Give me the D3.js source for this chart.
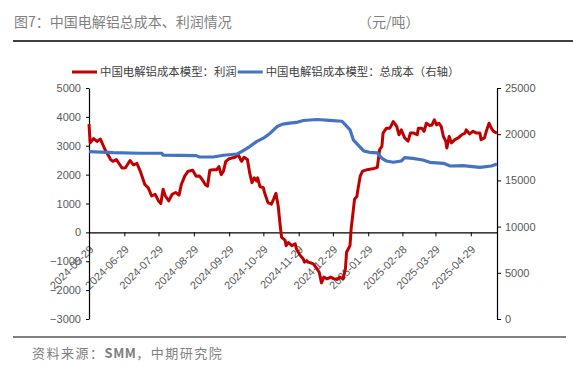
<!DOCTYPE html>
<html>
<head>
<meta charset="utf-8">
<script src="https://cdn.jsdelivr.net/npm/d3@7"></script>
<style>
    html, body { margin: 0; padding: 0; background: #fff; }
    svg { display: block; font-family: "Liberation Sans", Arial, sans-serif; }
</style>
</head>
<body>
<div id="chart"></div>
<script>
// profit (left axis), yuan/ton
const profitDates = [
    '2024-05-29', '2024-05-30', '2024-06-02', '2024-06-05', '2024-06-08', '2024-06-12', '2024-06-17', '2024-06-19',
    '2024-06-22', '2024-06-27', '2024-06-30', '2024-07-04', '2024-07-07', '2024-07-10', '2024-07-13', '2024-07-17',
    '2024-07-20', '2024-07-23', '2024-07-26', '2024-07-29', '2024-07-31', '2024-08-02', '2024-08-04', '2024-08-07',
    '2024-08-10', '2024-08-13', '2024-08-16', '2024-08-18', '2024-08-21', '2024-08-24', '2024-08-28', '2024-08-31',
    '2024-09-03', '2024-09-05', '2024-09-08', '2024-09-10', '2024-09-12', '2024-09-15', '2024-09-18', '2024-09-20',
    '2024-09-22', '2024-09-24', '2024-09-26', '2024-09-29', '2024-10-04', '2024-10-07', '2024-10-09', '2024-10-10',
    '2024-10-12', '2024-10-15', '2024-10-17', '2024-10-19', '2024-10-21', '2024-10-23', '2024-10-24', '2024-10-26',
    '2024-10-29', '2024-10-30', '2024-11-02', '2024-11-05', '2024-11-07', '2024-11-09', '2024-11-11', '2024-11-13',
    '2024-11-14', '2024-11-17', '2024-11-18', '2024-11-20', '2024-11-23', '2024-11-26', '2024-11-27', '2024-11-30',
    '2024-12-03', '2024-12-04', '2024-12-06', '2024-12-07', '2024-12-10', '2024-12-12', '2024-12-15', '2024-12-17',
    '2024-12-19', '2024-12-21', '2024-12-24', '2024-12-27', '2024-12-30', '2025-01-02', '2025-01-04', '2025-01-07',
    '2025-01-09', '2025-01-10', '2025-01-13', '2025-01-14', '2025-01-16', '2025-01-17', '2025-01-19', '2025-01-20',
    '2025-01-22', '2025-01-24', '2025-01-29', '2025-02-02', '2025-02-06', '2025-02-08', '2025-02-10', '2025-02-11',
    '2025-02-14', '2025-02-17', '2025-02-20', '2025-02-23', '2025-02-25', '2025-02-27', '2025-03-02', '2025-03-05',
    '2025-03-07', '2025-03-10', '2025-03-13', '2025-03-14', '2025-03-17', '2025-03-19', '2025-03-21', '2025-03-24',
    '2025-03-26', '2025-03-28', '2025-03-30', '2025-04-01', '2025-04-03', '2025-04-05', '2025-04-07', '2025-04-08',
    '2025-04-10', '2025-04-12', '2025-04-15', '2025-04-18', '2025-04-21', '2025-04-24', '2025-04-25', '2025-04-28',
    '2025-05-01', '2025-05-04', '2025-05-07', '2025-05-08', '2025-05-11', '2025-05-13', '2025-05-15', '2025-05-17',
    '2025-05-19', '2025-05-22'
];
const profitValues = [
    3750, 3100, 3250, 3150, 3230, 2870, 2520, 2460,
    2520, 2230, 2240, 2490, 2340, 2390, 2120, 1660,
    1540, 1260, 1320, 1090, 1000, 1490, 1260, 1090,
    1320, 1380, 1290, 1660, 1950, 2120, 2150, 1940,
    1950, 1850, 1660, 1600, 2150, 2170, 2170, 2280,
    2000, 2120, 2460, 2550, 2600, 2690, 2520, 2460,
    2600, 2520, 2060, 1720, 1890, 1780, 1890, 1580,
    1550, 1380, 1030, 980, 1150, 1350, 920, 150,
    -170, -270, -460, -350, -460, -400, -570, -780,
    -920, -1030, -980, -1030, -1060, -1100, -1260, -1380,
    -1750, -1550, -1610, -1550, -1610, -1630, -1550, -1610,
    -1260, -690, -460, 110, 800, 1150, 1240, 1490,
    1950, 2120, 2180, 2200, 2250, 2870, 2980, 3440,
    3610, 3610, 3840, 3670, 3380, 3550, 3270, 3160,
    3440, 3440, 3380, 3610, 3610, 3500, 3780, 3700,
    3720, 3900, 3720, 3780, 3670, 3320, 3160, 2920,
    3320, 3100, 3210, 3270, 3380, 3440, 3550, 3410,
    3500, 3440, 3440, 3210, 3270, 3550, 3780, 3610,
    3500, 3440
];

// total cost (right axis), yuan/ton
const costDates = [
    '2024-05-29', '2024-06-19', '2024-07-13', '2024-08-01', '2024-08-02', '2024-08-17', '2024-08-31', '2024-09-03',
    '2024-09-15', '2024-09-24', '2024-10-06', '2024-10-11', '2024-10-17', '2024-10-23', '2024-10-29', '2024-11-04',
    '2024-11-10', '2024-11-15', '2024-11-21', '2024-11-27', '2024-12-03', '2024-12-15', '2024-12-26', '2025-01-06',
    '2025-01-09', '2025-01-13', '2025-01-16', '2025-01-20', '2025-01-25', '2025-01-30', '2025-02-06', '2025-02-10',
    '2025-02-14', '2025-02-20', '2025-02-27', '2025-03-02', '2025-03-09', '2025-03-18', '2025-03-24', '2025-04-05',
    '2025-04-11', '2025-04-22', '2025-05-07', '2025-05-17', '2025-05-22'
];
const costValues = [
    18110, 18000, 17940, 17940, 17720, 17700, 17680, 17530,
    17530, 17720, 17860, 18190, 18660, 19200, 19570, 20110,
    20830, 21090, 21200, 21270, 21480, 21590, 21500, 21400,
    21010, 20470, 19380, 18840, 18190, 18040, 17970, 17390,
    17100, 16960, 17100, 17460, 17390, 17210, 16960, 16850,
    16560, 16600, 16410, 16560, 16770
];

const xTickLabels = [
    '2024-05-29', '2024-06-29', '2024-07-29', '2024-08-29', '2024-09-29', '2024-10-29',
    '2024-11-29', '2024-12-29', '2025-01-29', '2025-02-28', '2025-03-29', '2025-04-29'
];
const xDomain = ['2024-05-29', '2025-05-22'];
const leftTicks = [-3000, -2000, -1000, 0, 1000, 2000, 3000, 4000, 5000];
const rightTicks = [0, 5000, 10000, 15000, 20000, 25000];
const seriesNames = ['中国电解铝成本模型：利润', '中国电解铝成本模型：总成本（右轴）'];
const seriesColors = ['#C00000', '#4472C4'];
const titleText = '图7：中国电解铝总成本、利润情况';
const unitText = '（元/吨）';
const sourceParts = ['资料来源：', 'SMM', '，中期研究院'];

class DualAxisLineChart {
    constructor() {
        const attrs = {
            svgWidth: 573,
            svgHeight: 368,
            marginTop: 88,
            marginRight: 76,
            marginBottom: 49,
            marginLeft: 89,
            container: 'body',
            parseDate: d3.timeParse('%Y-%m-%d'),
            cjkFont: '"Noto Sans CJK SC", "Noto Sans", sans-serif'
        };

        this.getState = () => attrs;
        this.setState = (d) => Object.assign(attrs, d);

        Object.keys(attrs).forEach((key) => {
            this[key] = function(_) {
                if (!arguments.length) {
                    return attrs[key];
                }
                attrs[key] = _;
                return this;
            };
        });
    }

    render() {
        this.calculateProperties();
        this.drawSvgAndWrappers();
        this.drawAxes();
        this.drawLines();
        this.drawLegend();
        this.drawTexts();
        return this;
    }

    calculateProperties() {
        const { svgWidth, svgHeight, marginTop, marginRight, marginBottom, marginLeft, parseDate } = this.getState();

        const x = d3.scaleTime()
            .domain(xDomain.map(parseDate))
            .range([marginLeft, svgWidth - marginRight]);
        const yLeft = d3.scaleLinear()
            .domain([leftTicks[0], leftTicks[leftTicks.length - 1]])
            .range([svgHeight - marginBottom, marginTop]);
        const yRight = d3.scaleLinear()
            .domain([rightTicks[0], rightTicks[rightTicks.length - 1]])
            .range([svgHeight - marginBottom, marginTop]);

        const profit = profitDates.map((d, i) => ({ date: parseDate(d), value: profitValues[i] }));
        const cost = costDates.map((d, i) => ({ date: parseDate(d), value: costValues[i] }));

        this.setState({ x, yLeft, yRight, profit, cost });
    }

    drawSvgAndWrappers() {
        const { container, svgWidth, svgHeight } = this.getState();
        const svg = d3.select(container)
            .append('svg')
            .attr('width', svgWidth)
            .attr('height', svgHeight);
        const chart = svg.append('g').attr('class', 'chart');
        this.setState({ svg, chart });
    }

    drawAxes() {
        const { chart, x, yLeft, yRight, svgWidth, marginLeft, marginRight, parseDate } = this.getState();

        // x axis sits on the zero line of the left axis
        const xAxis = chart.append('g')
            .attr('class', 'x-axis')
            .attr('transform', 'translate(0,' + yLeft(0) + ')')
            .call(d3.axisBottom(x)
                .tickValues(xTickLabels.map(parseDate))
                .tickFormat(d3.timeFormat('%Y-%m-%d'))
                .tickSize(4)
                .tickSizeOuter(0));
        xAxis.selectAll('text')
            .attr('x', 0)
            .attr('y', 0)
            .attr('dy', '0.35em')
            .attr('text-anchor', 'end')
            .attr('transform', 'translate(2,15) rotate(-45)');

        const yAxisLeft = chart.append('g')
            .attr('class', 'y-axis-left')
            .attr('transform', 'translate(' + marginLeft + ',0)')
            .call(d3.axisLeft(yLeft)
                .tickValues(leftTicks)
                .tickFormat(d3.format('d'))
                .tickSize(3)
                .tickSizeOuter(0)
                .tickPadding(5));

        const yAxisRight = chart.append('g')
            .attr('class', 'y-axis-right')
            .attr('transform', 'translate(' + (svgWidth - marginRight) + ',0)')
            .call(d3.axisRight(yRight)
                .tickValues(rightTicks)
                .tickFormat(d3.format('d'))
                .tickSize(4)
                .tickSizeOuter(0)
                .tickPadding(4));

        [xAxis, yAxisLeft, yAxisRight].forEach((g) => {
            g.select('.domain').attr('stroke', '#000').attr('stroke-width', 1.2);
            g.selectAll('.tick line').attr('stroke', '#000');
            g.selectAll('.tick text')
                .attr('fill', '#595959')
                .style('font-size', '11px')
                .style('font-family', '"Liberation Sans", Arial, sans-serif');
        });
    }

    drawLines() {
        const { chart, x, yLeft, yRight, profit, cost } = this.getState();

        chart.append('path')
            .datum(profit)
            .attr('class', 'line-profit')
            .attr('fill', 'none')
            .attr('stroke', seriesColors[0])
            .attr('stroke-width', 3)
            .attr('stroke-linejoin', 'round')
            .attr('d', d3.line().x(d => x(d.date)).y(d => yLeft(d.value)));

        chart.append('path')
            .datum(cost)
            .attr('class', 'line-cost')
            .attr('fill', 'none')
            .attr('stroke', seriesColors[1])
            .attr('stroke-width', 3.2)
            .attr('stroke-linejoin', 'round')
            .attr('d', d3.line().x(d => x(d.date)).y(d => yRight(d.value)));
    }

    drawLegend() {
        const { svg, cjkFont } = this.getState();
        const legend = svg.append('g').attr('class', 'legend').attr('transform', 'translate(72,72)');

        let offset = 0;
        seriesNames.forEach((name, i) => {
            legend.append('line')
                .attr('x1', offset)
                .attr('x2', offset + 25)
                .attr('stroke', seriesColors[i])
                .attr('stroke-width', 3);
            const label = legend.append('text')
                .attr('x', offset + 28)
                .attr('dy', '0.35em')
                .attr('fill', '#404040')
                .style('font-size', '11.4px')
                .style('font-family', cjkFont)
                .text(name);
            offset += 28 + label.node().getComputedTextLength() + 1;
        });
    }

    drawTexts() {
        const { svg, cjkFont } = this.getState();

        svg.append('text')
            .attr('x', 14)
            .attr('y', 27)
            .attr('fill', '#7f7f7f')
            .style('font-size', '14px')
            .style('font-family', cjkFont)
            .text(titleText);

        svg.append('text')
            .attr('x', 358)
            .attr('y', 27)
            .attr('fill', '#7f7f7f')
            .style('font-size', '14px')
            .style('font-family', cjkFont)
            .text(unitText);

        svg.append('line')
            .attr('x1', 13).attr('x2', 573)
            .attr('y1', 41).attr('y2', 41)
            .attr('stroke', '#000')
            .attr('stroke-width', 1.5);

        svg.append('line')
            .attr('x1', 13).attr('x2', 566)
            .attr('y1', 337).attr('y2', 337)
            .attr('stroke', '#000')
            .attr('stroke-width', 1);

        const source = svg.append('text')
            .attr('x', 32)
            .attr('y', 358)
            .attr('fill', '#7f7f7f')
            .style('font-size', '13px')
            .style('letter-spacing', '1.5px')
            .style('font-family', cjkFont);
        source.selectAll('tspan')
            .data(sourceParts)
            .enter()
            .append('tspan')
            .style('font-weight', (d, i) => i === 1 ? 'bold' : null)
            .style('letter-spacing', (d, i) => i === 1 ? '0.5px' : null)
            .text(d => d);
    }
}

new DualAxisLineChart()
    .container('#chart')
    .render();
</script>
</body>
</html>
